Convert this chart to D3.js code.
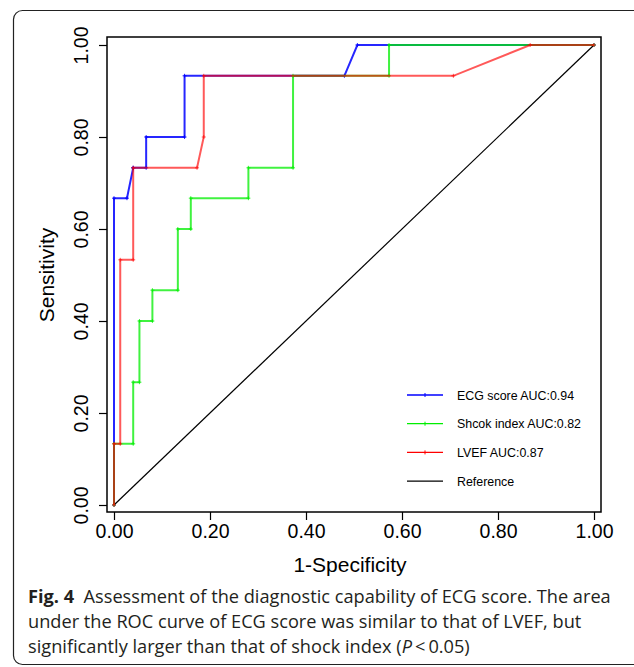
<!DOCTYPE html>
<html>
<head>
<meta charset="utf-8">
<script src="https://cdn.jsdelivr.net/npm/d3@7"></script>
<style>
  html, body { margin: 0; padding: 0; background: #fff; }
  svg { display: block; }
</style>
</head>
<body>
<svg id="chart" width="634" height="667"></svg>
<script>
// ---- data ----
const tickValues = [0, 0.2, 0.4, 0.6, 0.8, 1.0];
const seriesNames = ["ECG score AUC:0.94", "Shcok index AUC:0.82", "LVEF AUC:0.87", "Reference"];
const seriesColors = ["#0000ff", "#00ee00", "#ff0000", "#000000"];

const ecgFpr  = [0, 0, 0.027, 0.040, 0.040, 0.067, 0.067, 0.147, 0.147, 0.480, 0.507, 1];
const ecgSens = [0, 0.667, 0.667, 0.733, 0.733, 0.733, 0.800, 0.800, 0.933, 0.933, 1.000, 1];

const shockFpr  = [0, 0, 0.040, 0.040, 0.053, 0.053, 0.080, 0.080, 0.133, 0.133, 0.160, 0.160, 0.280, 0.280, 0.373, 0.373, 0.573, 0.573, 1];
const shockSens = [0, 0.133, 0.133, 0.267, 0.267, 0.400, 0.400, 0.467, 0.467, 0.600, 0.600, 0.667, 0.667, 0.733, 0.733, 0.933, 0.933, 1.000, 1];

const lvefFpr  = [0, 0, 0.013, 0.013, 0.040, 0.040, 0.173, 0.187, 0.187, 0.707, 0.867, 1];
const lvefSens = [0, 0.133, 0.133, 0.533, 0.533, 0.733, 0.733, 0.800, 0.933, 0.933, 1.000, 1];

const refFpr  = [0, 1];
const refSens = [0, 1];

const captionLines = [
  [{t: "Fig. 4", b: true}, {t: "  Assessment of the diagnostic capability of ECG score. The area", b: false}],
  [{t: "under the ROC curve of ECG score was similar to that of LVEF, but", b: false}],
  [{t: "significantly larger than that of shock index (", b: false}, {t: "P", b: false, i: true}, {t: "\u2009<\u20090.05)", b: false}]
];

// ---- drawing ----
const svg = d3.select("#chart");
const font = "'Liberation Sans', Arial, sans-serif";

// outer frame
svg.append("rect")
  .attr("x", 13.5).attr("y", 10.5).attr("width", 640).attr("height", 654)
  .attr("rx", 9).attr("ry", 9)
  .attr("fill", "none").attr("stroke", "#222").attr("stroke-width", 1.2);

const x = d3.scaleLinear().domain([0, 1]).range([114, 594]);
const y = d3.scaleLinear().domain([0, 1]).range([505, 45]);
const box = {l: 107, r: 601, t: 37, b: 512};

// plot box
svg.append("rect")
  .attr("x", box.l).attr("y", box.t)
  .attr("width", box.r - box.l).attr("height", box.b - box.t)
  .attr("fill", "none").attr("stroke", "#000").attr("stroke-width", 1.5);

// axes
const fmt = d3.format(".2f");
const xAxis = svg.append("g")
  .attr("transform", `translate(0,${box.b})`)
  .call(d3.axisBottom(x).tickValues(tickValues).tickFormat(fmt).tickSizeOuter(0).tickSize(8).tickPadding(4));
xAxis.select(".domain").remove();
xAxis.selectAll("line").attr("stroke", "#000").attr("stroke-width", 1.2);
xAxis.selectAll("text").attr("font-family", font).attr("font-size", 19.5).attr("fill", "#000");

const yAxis = svg.append("g")
  .attr("transform", `translate(${box.l},0)`)
  .call(d3.axisLeft(y).tickValues(tickValues).tickFormat(fmt).tickSizeOuter(0).tickSize(8));
yAxis.select(".domain").remove();
yAxis.selectAll("line").attr("stroke", "#000").attr("stroke-width", 1.2);
yAxis.selectAll("text")
  .attr("font-family", font).attr("font-size", 19.5).attr("fill", "#000")
  .attr("transform", "rotate(-90)")
  .attr("x", 0).attr("y", -19).attr("dy", 0)
  .attr("text-anchor", "middle");

// axis titles
svg.append("text")
  .attr("x", 350).attr("y", 572)
  .attr("text-anchor", "middle")
  .attr("font-family", font).attr("font-size", 21)
  .text("1-Specificity");
svg.append("text")
  .attr("transform", "translate(54,275) rotate(-90)")
  .attr("text-anchor", "middle")
  .attr("font-family", font).attr("font-size", 21)
  .text("Sensitivity");

// curves
const line = d3.line().x(d => x(d[0])).y(d => y(d[1]));
const series = [
  {fpr: ecgFpr, sens: ecgSens, color: seriesColors[0], op: 0.85},
  {fpr: shockFpr, sens: shockSens, color: seriesColors[1], op: 0.75},
  {fpr: lvefFpr, sens: lvefSens, color: seriesColors[2], op: 0.65},
];

// reference diagonal
svg.append("path")
  .attr("d", line(d3.zip(refFpr, refSens)))
  .attr("fill", "none").attr("stroke", seriesColors[3]).attr("stroke-width", 1.2);

series.forEach(s => {
  const pts = d3.zip(s.fpr, s.sens);
  svg.append("path")
    .attr("d", line(pts))
    .attr("fill", "none")
    .attr("stroke", s.color)
    .attr("stroke-opacity", s.op)
    .attr("stroke-width", 2);
  const g = svg.append("g").attr("stroke", s.color).attr("stroke-opacity", s.op).attr("stroke-width", 1);
  pts.forEach(p => {
    g.append("line").attr("x1", x(p[0])).attr("x2", x(p[0])).attr("y1", y(p[1]) - 2).attr("y2", y(p[1]) + 2);
    g.append("line").attr("x1", x(p[0]) - 2).attr("x2", x(p[0]) + 2).attr("y1", y(p[1])).attr("y2", y(p[1]));
  });
});

// legend
const legend = svg.append("g");
seriesNames.forEach((name, i) => {
  const ly = 395 + i * 28.7;
  legend.append("line")
    .attr("x1", 407).attr("x2", 443).attr("y1", ly).attr("y2", ly)
    .attr("stroke", seriesColors[i]).attr("stroke-width", 1.3);
  if (i < 3) {
    legend.append("line")
      .attr("x1", 425).attr("x2", 425).attr("y1", ly - 2).attr("y2", ly + 2)
      .attr("stroke", seriesColors[i]).attr("stroke-width", 1);
  }
  legend.append("text")
    .attr("x", 457).attr("y", ly + 4.5)
    .attr("font-family", font).attr("font-size", 12.4)
    .text(name);
});

// caption
const cap = svg.append("g")
  .attr("font-family", "'Open Sans', 'Noto Sans', sans-serif")
  .attr("font-size", 18.2).attr("fill", "#231f20");
captionLines.forEach((ln, i) => {
  const t = cap.append("text").attr("x", 28).attr("y", 603 + i * 25).attr("xml:space", "preserve");
  ln.forEach(seg => {
    t.append("tspan")
      .attr("font-weight", seg.b ? "bold" : "normal")
      .attr("font-style", seg.i ? "italic" : "normal")
      .text(seg.t);
  });
});
</script>
</body>
</html>
